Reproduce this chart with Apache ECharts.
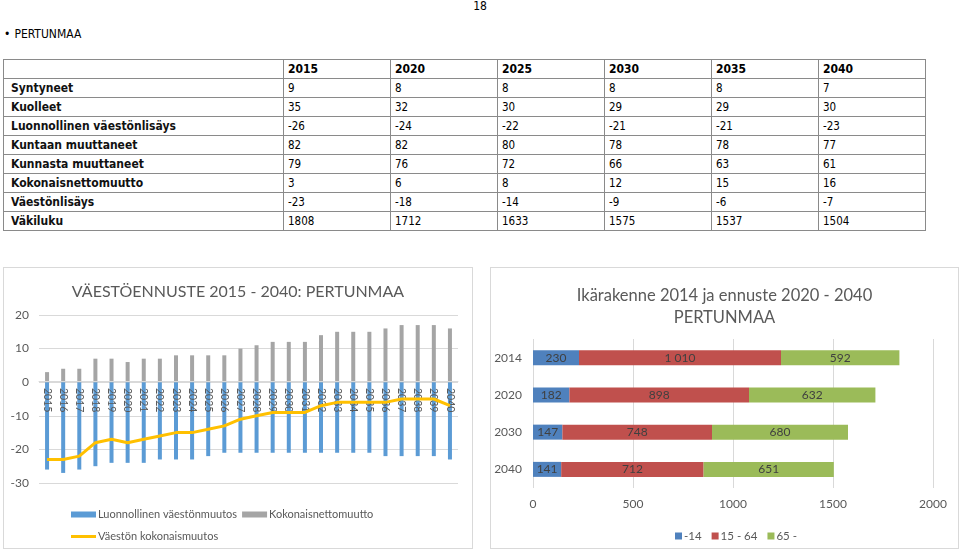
<!DOCTYPE html>
<html>
<head>
<meta charset="utf-8">
<script src="https://cdn.jsdelivr.net/npm/echarts@6/dist/echarts.min.js"></script>
<style>
  html, body { margin:0; padding:0; background:#fff; }
  #page { position:relative; width:960px; height:550px; overflow:hidden; background:#fff; }
  #pnum { position:absolute; left:0; width:960px; top:-1px; text-align:center; font:12px "DejaVu Sans Condensed", sans-serif; color:#000; }
  #bullet { position:absolute; left:4px; top:27px; font:12px "DejaVu Sans Condensed", sans-serif; color:#000; }
  #bullet span { margin-left:4px; }
  #tbl { position:absolute; left:3px; top:59px; border-collapse:collapse; font-family:"DejaVu Sans Condensed", sans-serif; color:#000; }
  #tbl td { border:1px solid #8a8a8a; height:18px; padding:0 0 0 4px; font-size:11.5px; line-height:18px; white-space:nowrap; vertical-align:middle; }
  #tbl td.lab { font-weight:bold; font-size:12px; padding-left:7px; width:272px; color:#111; }
  #tbl td.val { width:102px; }
  #tbl tr.hdr td { font-weight:bold; font-size:12px; }
  .box { position:absolute; border:1px solid #d9d9d9; box-sizing:border-box; }
  #c1 { left:3px; top:267px; width:470px; height:282px; }
  #c2 { left:490px; top:267px; width:469px; height:282px; }
</style>
</head>
<body>
<div id="page">
  <div id="pnum">18</div>
  <div id="bullet">•<span>PERTUNMAA</span></div>
  <table id="tbl"></table>
  <div id="c1" class="box"></div>
  <div id="c2" class="box"></div>
</div>
<script>
// ---- table data ----
var tableYears = ['2015', '2020', '2025', '2030', '2035', '2040'];
var rowLabels = ['Syntyneet', 'Kuolleet', 'Luonnollinen väestönlisäys', 'Kuntaan muuttaneet', 'Kunnasta muuttaneet', 'Kokonaisnettomuutto', 'Väestönlisäys', 'Väkiluku'];
var rowSyntyneet = [9, 8, 8, 8, 8, 7];
var rowKuolleet = [35, 32, 30, 29, 29, 30];
var rowLuonnollinen = [-26, -24, -22, -21, -21, -23];
var rowKuntaan = [82, 82, 80, 78, 78, 77];
var rowKunnasta = [79, 76, 72, 66, 63, 61];
var rowNetto = [3, 6, 8, 12, 15, 16];
var rowLisays = [-23, -18, -14, -9, -6, -7];
var rowVakiluku = [1808, 1712, 1633, 1575, 1537, 1504];

// ---- chart 1 data ----
var years = ['2015','2016','2017','2018','2019','2020','2021','2022','2023','2024','2025','2026','2027','2028','2029','2030','2031','2032','2033','2034','2035','2036','2037','2038','2039','2040'];
var naturalChange = [-26,-27,-26,-25,-24,-24,-24,-23,-23,-23,-22,-21,-21,-21,-21,-21,-21,-21,-21,-21,-21,-22,-22,-22,-22,-23];
var netMigration = [3,4,4,7,7,6,7,7,8,8,8,8,10,11,12,12,12,14,15,15,15,16,17,17,17,16];
var totalChange = [-23,-23,-22,-18,-17,-18,-17,-16,-15,-15,-14,-13,-11,-10,-9,-9,-9,-7,-6,-6,-6,-6,-5,-5,-5,-7];
var yTicks1 = [-30, -20, -10, 0, 10, 20];

// ---- chart 2 data ----
var ageYears = ['2014', '2020', '2030', '2040'];
var age0_14 = [230, 182, 147, 141];
var age15_64 = [1010, 898, 748, 712];
var age65 = [592, 632, 680, 651];
var xTicks2 = [0, 500, 1000, 1500, 2000];

// build table
(function () {
  var rows = [rowSyntyneet, rowKuolleet, rowLuonnollinen, rowKuntaan, rowKunnasta, rowNetto, rowLisays, rowVakiluku];
  var html = '<tr class="hdr"><td class="lab"></td>';
  tableYears.forEach(function (y) { html += '<td class="val">' + y + '</td>'; });
  html += '</tr>';
  rows.forEach(function (r, i) {
    html += '<tr><td class="lab">' + rowLabels[i] + '</td>';
    r.forEach(function (v) { html += '<td class="val">' + v + '</td>'; });
    html += '</tr>';
  });
  document.getElementById('tbl').innerHTML = html;
})();

var FONT = 'Lato, "Open Sans", sans-serif';
var TXT = '#595959';

// grid geometry of chart 1 (px inside its box)
var G1 = { left: 35, right: 14, top: 47, bottom: 65 };
var plotH1 = 282 - G1.top - G1.bottom;
var zeroOffset = -Math.round(plotH1 * (0 - (-30)) / (20 - (-30)));

var c1 = echarts.init(document.getElementById('c1'));
c1.setOption({
  animation: false,
  textStyle: { fontFamily: FONT },
  title: {
    text: 'VÄESTÖENNUSTE 2015 - 2040: PERTUNMAA',
    left: 'center', top: 11,
    textStyle: { fontFamily: FONT, fontSize: 16, fontWeight: 'normal', color: TXT }
  },
  legend: [{
    data: ['Luonnollinen väestönmuutos', 'Kokonaisnettomuutto'],
    left: 62, top: 236, itemWidth: 25, itemHeight: 6, itemGap: 5,
    icon: 'rect',
    textStyle: { fontFamily: FONT, fontSize: 11, color: TXT, padding: [0, 0, 0, -3] }
  }, {
    data: [{ name: 'Väestön kokonaismuutos', icon: 'rect' }],
    left: 62, top: 258, itemWidth: 25, itemHeight: 3,
    textStyle: { fontFamily: FONT, fontSize: 11, color: TXT, padding: [0, 0, 0, -3] }
  }],
  grid: G1,
  xAxis: {
    type: 'category', data: years, z: 3,
    position: 'bottom', offset: zeroOffset,
    axisLine: { onZero: false, lineStyle: { color: '#d9d9d9' } },
    axisTick: { show: false },
    axisLabel: { rotate: -90, margin: 7, fontSize: 10.5, color: TXT, fontFamily: FONT }
  },
  yAxis: {
    type: 'value', min: -30, max: 20, interval: 10,
    axisLine: { show: false }, axisTick: { show: false },
    splitLine: { lineStyle: { color: '#d9d9d9' } },
    axisLabel: { margin: 10, fontSize: 12, color: TXT, fontFamily: FONT,
      formatter: function (v) { return yTicks1.indexOf(v) >= 0 ? String(v) : ''; } }
  },
  series: [{
    name: 'Luonnollinen väestönmuutos', type: 'bar', stack: 's', data: naturalChange,
    barWidth: 4, itemStyle: { color: '#5B9BD5' }, z: 2
  }, {
    name: 'Kokonaisnettomuutto', type: 'bar', stack: 's', data: netMigration,
    barWidth: 4, itemStyle: { color: '#A5A5A5' }, z: 2
  }, {
    name: 'Väestön kokonaismuutos', type: 'line', data: totalChange, z: 5,
    symbol: 'none', lineStyle: { color: '#FFC000', width: 3 }, itemStyle: { color: '#FFC000' }
  }]
});

function fmt(v) {
  var s = String(v);
  return s.length > 3 ? s.slice(0, s.length - 3) + ' ' + s.slice(s.length - 3) : s;
}
var lbl = { show: true, position: 'inside', color: '#404040', fontSize: 12, fontFamily: FONT,
  formatter: function (p) { return fmt(p.value); } };

var c2 = echarts.init(document.getElementById('c2'));
c2.setOption({
  animation: false,
  textStyle: { fontFamily: FONT },
  title: {
    text: 'Ikärakenne 2014 ja ennuste 2020 - 2040\nPERTUNMAA',
    left: 'center', top: 12,
    textStyle: { fontFamily: FONT, fontSize: 16.5, fontWeight: 'normal', color: TXT, lineHeight: 22 }
  },
  legend: {
    data: ['-14', '15 - 64', '65 -'], left: 179, top: 257,
    itemWidth: 7, itemHeight: 7, itemGap: 10, icon: 'rect',
    textStyle: { fontFamily: FONT, fontSize: 11.5, color: TXT, padding: [0, 0, 0, -3] }
  },
  grid: { left: 42, right: 25, top: 71, bottom: 60 },
  xAxis: {
    type: 'value', min: 0, max: 2000, interval: 500,
    axisLine: { show: false }, axisTick: { show: false },
    splitLine: { lineStyle: { color: '#d9d9d9' } },
    axisLabel: { margin: 10, fontSize: 12, color: TXT, fontFamily: FONT,
      formatter: function (v) { return xTicks2.indexOf(v) >= 0 ? String(v) : ''; } }
  },
  yAxis: {
    type: 'category', data: ageYears, inverse: true,
    axisLine: { show: false }, axisTick: { show: false },
    axisLabel: { margin: 11, fontSize: 12, color: TXT, fontFamily: FONT }
  },
  series: [{
    name: '-14', type: 'bar', stack: 'a', data: age0_14, barWidth: 15,
    itemStyle: { color: '#4F81BD' }, label: lbl
  }, {
    name: '15 - 64', type: 'bar', stack: 'a', data: age15_64, barWidth: 15,
    itemStyle: { color: '#C0504D' }, label: lbl
  }, {
    name: '65 -', type: 'bar', stack: 'a', data: age65, barWidth: 15,
    itemStyle: { color: '#9BBB59' }, label: lbl
  }]
});
</script>
</body>
</html>
